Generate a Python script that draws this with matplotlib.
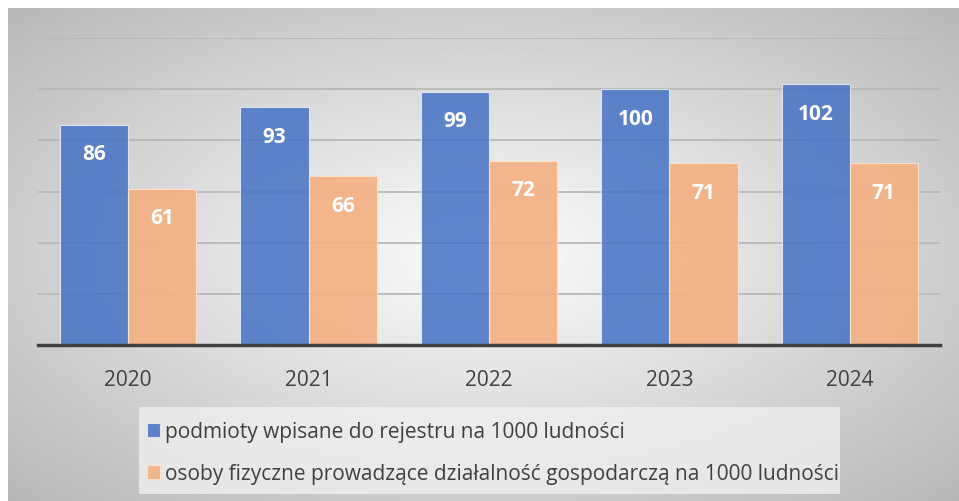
import numpy as np
import matplotlib
matplotlib.use('Agg')
import matplotlib.pyplot as plt
from matplotlib.patches import Rectangle

plt.rcParams['font.family'] = ['Open Sans', 'DejaVu Sans']

# data
years = ['2020', '2021', '2022', '2023', '2024']
podmioty = [86, 93, 99, 100, 102]
osoby = [61, 66, 72, 71, 71]
series_names = ['podmioty wpisane do rejestru na 1000 ludności',
                'osoby fizyczne prowadzące działalność gospodarczą na 1000 ludności']

blue = '#4472C4'
orange = '#F4B183'

fig = plt.figure(figsize=(9.59, 5.02), dpi=100)

# radial grey gradient background (white margin top/left)
bg = fig.add_axes([8 / 959, 0, 951 / 959, 493 / 502])
yy, xx = np.mgrid[0:1:300j, 0:1:600j]
r = np.sqrt(((xx - 0.5) / 1.0) ** 2 + ((yy - 0.5) / 1.0) ** 2)
shade = np.clip(0.99 - 0.38 * r, 0, 1)
bg.imshow(shade, cmap='gray', vmin=0, vmax=1, aspect='auto', extent=[0, 1, 0, 1], origin='lower')
bg.set_axis_off()

ax = fig.add_axes([38 / 959, (502 - 346) / 502, 902 / 959, 307 / 502])
ax.patch.set_alpha(0)

x = np.arange(len(years))
w = 0.378
b1 = ax.bar(x - w / 2, podmioty, w, color=blue, alpha=0.85, edgecolor='#e8eef8', linewidth=0.8,
            label=series_names[0], zorder=3)
b2 = ax.bar(x + w / 2, osoby, w, color=orange, alpha=0.92, edgecolor='#fbe3d2', linewidth=0.8,
            label=series_names[1], zorder=3)

for bars, vals in ((b1, podmioty), (b2, osoby)):
    for rect, v in zip(bars, vals):
        ax.annotate(str(v), (rect.get_x() + rect.get_width() / 2, v), xytext=(0, -29),
                    textcoords='offset pixels', ha='center', va='center',
                    color='white', fontsize=15, fontweight='bold', zorder=5)

ax.set_xlim(-0.5, len(years) - 0.5)
ax.set_ylim(0, 120)
ax.set_yticks(np.arange(20, 121, 20))
ax.yaxis.grid(True, color='#b8b8b8', linewidth=1.3, zorder=0)
ax.set_axisbelow(True)
ax.tick_params(axis='y', left=False, labelleft=False)
ax.set_xticks(x)
ax.set_xticklabels(years, fontsize=15, color='#404040')
ax.tick_params(axis='x', length=0, pad=17)
for s in ['top', 'right', 'left']:
    ax.spines[s].set_visible(False)
ax.spines['bottom'].set_color('#404040')
ax.spines['bottom'].set_linewidth(2.5)
ax.spines['bottom'].set_zorder(4)

# legend box
fig.patches.append(Rectangle((139 / 959, 1 - 495 / 502), 701 / 959, 87 / 502,
                             transform=fig.transFigure, facecolor='#f2f2f2', alpha=0.75,
                             edgecolor='none', zorder=1))
leg = fig.legend(handles=[b1, b2], loc='upper left', bbox_to_anchor=(141 / 959, 1 - 416 / 502),
                 fontsize=15, frameon=False, handlelength=0.62, handleheight=0.62,
                 handletextpad=0.25, labelspacing=1.0, borderpad=0.3, borderaxespad=0)
for t in leg.get_texts():
    t.set_color('#404040')

fig.savefig('out.png', dpi=100)
